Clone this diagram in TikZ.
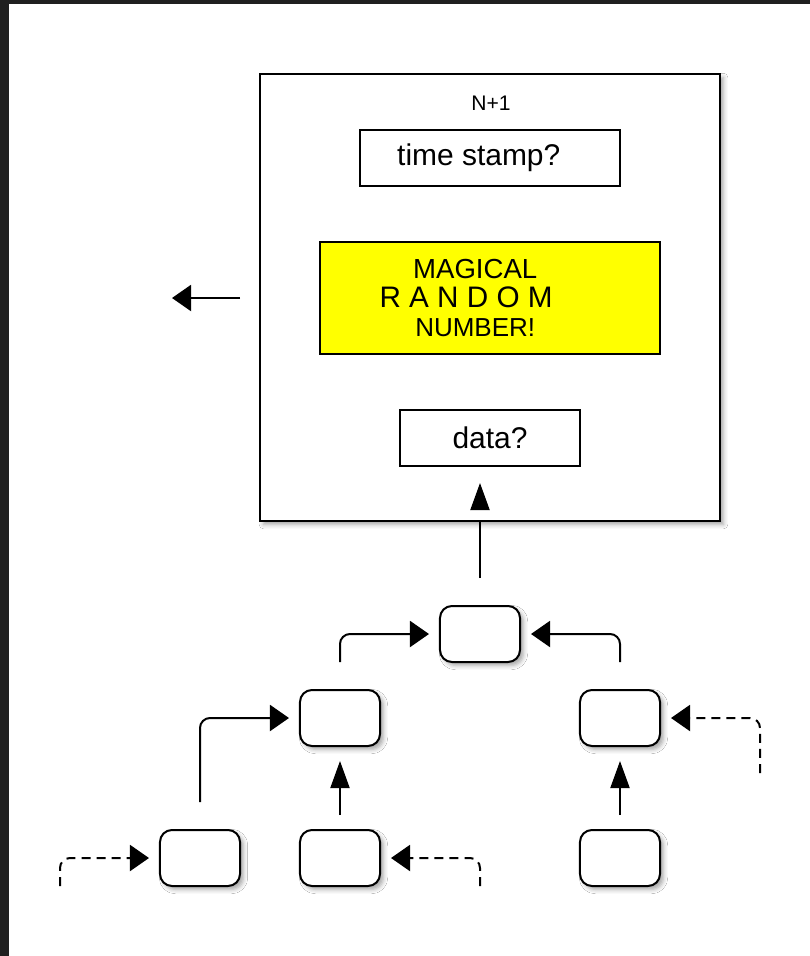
\documentclass[tikz,border=0pt]{standalone}
\usepackage{fontspec}
\setmainfont{Liberation Sans}
\usetikzlibrary{arrows.meta,shadows.blur}
\definecolor{frame}{RGB}{32,32,32}
\definecolor{lemon}{RGB}{255,255,0}
\tikzset{
  softshadow/.style={blur shadow={shadow xshift=2.5pt,shadow yshift=-2.5pt,shadow blur radius=3pt,shadow opacity=35}},
  panel/.style={draw,line width=0.05cm,fill=white},
  cell/.style={panel,rounded corners=0.3cm,minimum width=2cm,minimum height=1.4cm,softshadow},
  wire/.style={line width=0.05cm},
  hlink/.style={wire,-{Triangle[length=0.475cm,width=0.65cm]}},
  vlink/.style={wire,-{Triangle[length=0.675cm,width=0.475cm]}},
  tolink/.style={hlink,rounded corners=0.25cm,shorten >=0.25cm},
  dashlink/.style={tolink,dash pattern=on 6.4pt off 4.3pt},
  bigtext/.style={font=\fontsize{21.3pt}{25pt}\selectfont}
}
\begin{document}
\begin{tikzpicture}[x=0.025cm,y=-0.025cm]
\useasboundingbox (0,0) rectangle (810,956);
\fill[white] (0,0) rectangle (810,956);
\fill[frame] (0,0) rectangle (9,956);
\fill[frame] (0,0) rectangle (810,4);
% block N+1
\node[panel,minimum width=11.5cm,minimum height=11.175cm,softshadow] (block) at (490,297.5) {};
\node[anchor=base,font=\fontsize{15pt}{18pt}\selectfont] (title) at (491,110) {N+1};
\node[panel,bigtext,minimum width=6.5cm,minimum height=1.4cm] (stamp) at (490,158) {time stamp?\kern 16pt};
\node[panel,fill=lemon,minimum width=8.5cm,minimum height=2.8cm,align=center,
  font=\fontsize{20pt}{20.5pt}\selectfont] (magic) at (490,298)
  {{\fontsize{19.6pt}{20.5pt}\selectfont MAGICAL\kern 21pt}\\
   {\fontsize{21.1pt}{20.5pt}\selectfont R A N D O M\kern 34pt}\\
   {\fontsize{18.5pt}{20.5pt}\selectfont NUMBER!\kern 21pt}};
\node[panel,bigtext,minimum width=4.5cm,minimum height=1.4cm] (payload) at (490,438) {data?};
% tree
\node[cell] (root) at (480,634) {};
\node[cell] (midL) at (340,718) {};
\node[cell] (midR) at (620,718) {};
\node[cell] (leafA) at (200,858) {};
\node[cell] (leafB) at (340,858) {};
\node[cell] (leafC) at (620,858) {};
% free ends
\coordinate (feed) at (480,578);
\coordinate (tipbase) at (480,508);
\coordinate (exit) at (240,298);
\coordinate (exitend) at (172,298);
\coordinate (fromL) at (340,662);
\coordinate (fromR) at (620,662);
\coordinate (fromA) at (200,802);
\coordinate (fromB) at (340,815);
\coordinate (fromC) at (620,815);
\coordinate (farR) at (760,773);
\coordinate (farA) at (60,886);
\coordinate (farB) at (480,886);
% connectors
\draw[wire] (feed) -- (feed |- block.south);
\draw[vlink,shorten >=0.4cm] (tipbase) -- (tipbase |- payload.south);
\draw[hlink] (exit) -- (exitend);
\draw[tolink] (fromL) |- (root.west);
\draw[tolink] (fromR) |- (root.east);
\draw[tolink] (fromA) |- (midL.west);
\draw[vlink,shorten >=0.35cm] (fromB) -- (midL.south);
\draw[vlink,shorten >=0.35cm] (fromC) -- (midR.south);
\draw[dashlink] (farR) |- (midR.east);
\draw[dashlink] (farA) |- (leafA.west);
\draw[dashlink] (farB) |- (leafB.east);
\end{tikzpicture}
\end{document}
